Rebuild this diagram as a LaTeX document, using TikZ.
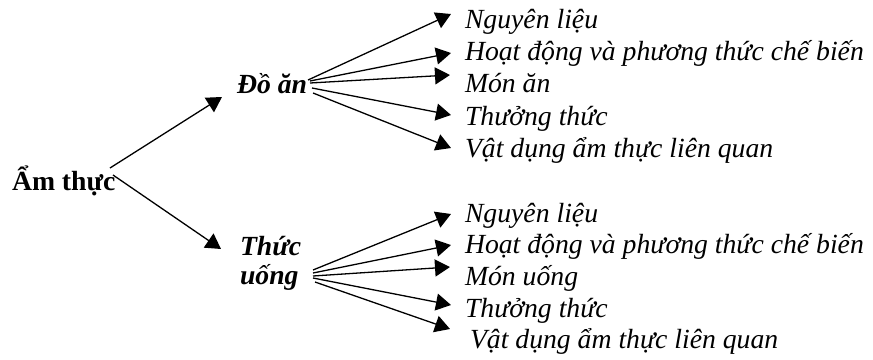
\documentclass[tikz,border=0pt]{standalone}
\usepackage{fontspec}
\setmainfont{Liberation Serif}
\usetikzlibrary{arrows.meta}
\begin{document}
\begin{tikzpicture}[x=0.5pt,y=-0.5pt,
  every node/.style={inner sep=0pt,outer sep=0pt},
  txt/.style={anchor=base west,font=\fontsize{13.85}{15}\selectfont\itshape},
  head/.style={anchor=base west,font=\fontsize{13.85}{14.5}\selectfont\bfseries\itshape,align=left},
  root/.style={anchor=base west,font=\fontsize{13.85}{15}\selectfont\bfseries},
  conn/.style={line width=0.65pt,-{Triangle[length=7.5pt,width=8.5pt]}}]
\useasboundingbox (0,0) rectangle (873,359);
% nodes
\node[root] (am) at (12,190) {Ẩm thực};
\node[head] (da) at (237,93) {Đồ ăn};
\node[head] (tu) at (240,284) {Thức\\uống};
\node[txt] (a1) at (465,28) {Nguyên liệu};
\node[txt] (a2) at (465,60) {Hoạt động và phương thức chế biến};
\node[txt] (a3) at (465,92) {Món ăn};
\node[txt] (a4) at (465,125) {Thưởng thức};
\node[txt] (a5) at (465,157) {Vật dụng ẩm thực liên quan};
\node[txt] (b1) at (465,222) {Nguyên liệu};
\node[txt] (b2) at (465,253) {Hoạt động và phương thức chế biến};
\node[txt] (b3) at (465,285) {Món uống};
\node[txt] (b4) at (465,317) {Thưởng thức};
\node[txt] (b5) at (470,348) {Vật dụng ẩm thực liên quan};
% connector points
\coordinate (am1) at (110,168);
\coordinate (am2) at (113,175);
\coordinate (da0) at (222,97);
\coordinate (tu0) at (221,249);
\coordinate (do1) at (308,80);
\coordinate (do2) at (310,81);
\coordinate (do3) at (310,83);
\coordinate (do4) at (312,88);
\coordinate (do5) at (313,93);
\coordinate (ta1) at (451,14);
\coordinate (ta2) at (451,53);
\coordinate (ta3) at (450,75);
\coordinate (ta4) at (451,115);
\coordinate (ta5) at (451,148);
\coordinate (uo1) at (313,270);
\coordinate (uo2) at (313,273);
\coordinate (uo3) at (313,276);
\coordinate (uo4) at (313,278);
\coordinate (uo5) at (315,282);
\coordinate (tb1) at (451,214);
\coordinate (tb2) at (451,245);
\coordinate (tb3) at (450,267);
\coordinate (tb4) at (451,305);
\coordinate (tb5) at (450,329);
% connectors
\draw[conn] (am1) -- (da0);
\draw[conn] (am2) -- (tu0);
\foreach \i in {1,...,5} {
  \draw[conn] (do\i) -- (ta\i);
  \draw[conn] (uo\i) -- (tb\i);
}
\end{tikzpicture}
\end{document}
